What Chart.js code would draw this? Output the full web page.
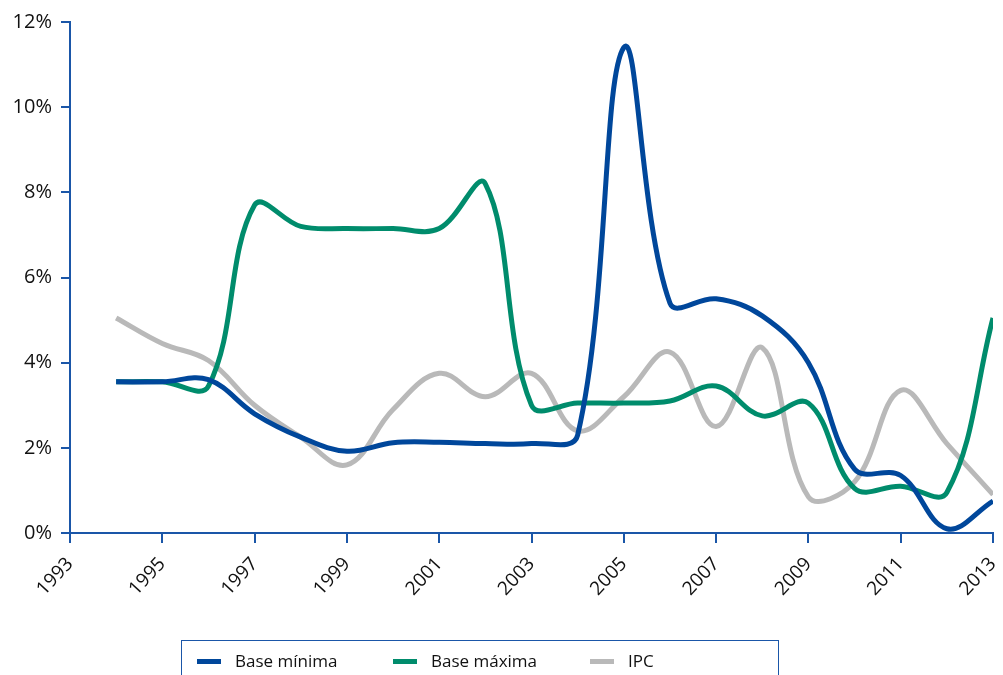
<!DOCTYPE html>
<html>
<head>
<meta charset="utf-8">
<script src="https://cdn.jsdelivr.net/npm/chart.js@4/dist/chart.umd.min.js"></script>
<style>
  html, body { margin: 0; padding: 0; background: #fff; overflow: hidden; }
  #wrap { position: relative; width: 1003px; height: 675px; }
  #legend {
    position: absolute; left: 181px; top: 640px; width: 598px; height: 60px;
    border: 1px solid #1a56a8; box-sizing: border-box;
    font-family: 'Open Sans', 'Noto Sans', sans-serif; font-size: 17px; color: #111;
  }
  .item { position: absolute; top: 9px; height: 22px; line-height: 22px; white-space: nowrap; }
  .swatch { display: inline-block; width: 24px; height: 5px; vertical-align: middle; margin-right: 14px; position: relative; top: -1px; }
</style>
</head>
<body>
<div id="wrap">
  <canvas id="chart" width="1003" height="675"></canvas>
  <div id="legend"></div>
</div>
<script>
const years = [1994, 1995, 1996, 1997, 1998, 1999, 2000, 2001, 2002, 2003,
               2004, 2005, 2006, 2007, 2008, 2009, 2010, 2011, 2012, 2013];
const baseMinima = [3.55, 3.55, 3.6, 2.8, 2.25, 1.92, 2.12, 2.13, 2.1, 2.1,
                    2.3, 11.4, 5.4, 5.5, 5.1, 4.0, 1.5, 1.35, 0.1, 0.75];
const baseMaxima = [3.55, 3.55, 3.45, 7.7, 7.2, 7.15, 7.15, 7.15, 8.2, 3.0,
                    3.05, 3.05, 3.1, 3.45, 2.75, 3.05, 1.05, 1.1, 0.95, 5.05];
const ipc = [5.05, 4.45, 4.05, 3.0, 2.25, 1.6, 2.9, 3.75, 3.2, 3.75,
             2.4, 3.2, 4.25, 2.5, 4.35, 0.85, 1.2, 3.35, 2.1, 0.9];
const seriesNames = ['Base mínima', 'Base máxima', 'IPC'];
const seriesColors = ['#00479b', '#008c6c', '#b9b9b9'];
const yTicks = [0, 2, 4, 6, 8, 10, 12];
const xRange = [1993, 2013];

const axisBlue = '#1a56a8';
const font = "'Open Sans', 'Noto Sans', sans-serif";

function pts(vals) {
  return years.map((y, i) => ({ x: y, y: vals[i] }));
}

const datasets = [baseMinima, baseMaxima, ipc].map((vals, i) => ({
  label: seriesNames[i],
  data: pts(vals),
  borderColor: seriesColors[i],
  backgroundColor: seriesColors[i],
  borderWidth: 5,
  pointRadius: 0,
  tension: 0.38,
  fill: false,
  order: i + 1 // grey drawn underneath the other two
}));

const chart = new Chart(document.getElementById('chart'), {
  type: 'line',
  data: { datasets },
  options: {
    responsive: false,
    animation: false,
    layout: { padding: { top: 22, right: 10, left: 0, bottom: 0 } },
    plugins: { legend: { display: false }, tooltip: { enabled: false } },
    scales: {
      x: {
        type: 'linear',
        min: xRange[0], max: xRange[1],
        afterFit: s => { s.height = 142; s.paddingLeft = 0; s.paddingRight = 0; },
        afterBuildTicks: s => {
          const t = [];
          for (let v = xRange[0]; v <= xRange[1]; v += 2) t.push({ value: v });
          s.ticks = t;
        },
        border: { color: axisBlue, width: 2 },
        grid: { drawOnChartArea: false, color: axisBlue, lineWidth: 2, tickLength: 10, tickColor: axisBlue },
        ticks: {
          color: '#111', font: { family: font, size: 19 },
          minRotation: 47, maxRotation: 47, padding: 10, autoSkip: false,
          callback: v => String(v)
        }
      },
      y: {
        min: 0, max: 12,
        afterFit: s => { s.width = 70; },
        afterBuildTicks: s => { s.ticks = yTicks.map(v => ({ value: v })); },
        border: { color: axisBlue, width: 2 },
        grid: { drawOnChartArea: false, color: axisBlue, lineWidth: 2, tickLength: 9, tickColor: axisBlue },
        ticks: {
          color: '#111', font: { family: font, size: 20 }, padding: 9,
          callback: v => v + '%'
        }
      }
    }
  }
});

// legend box below the plot
const legendEl = document.getElementById('legend');
const legendX = [15, 211, 408];
chart.data.datasets.forEach((ds, i) => {
  const item = document.createElement('div');
  item.className = 'item';
  item.style.left = legendX[i] + 'px';
  item.innerHTML = '<span class="swatch" style="background:' + ds.borderColor + '"></span>' + ds.label;
  legendEl.appendChild(item);
});
</script>
</body>
</html>
